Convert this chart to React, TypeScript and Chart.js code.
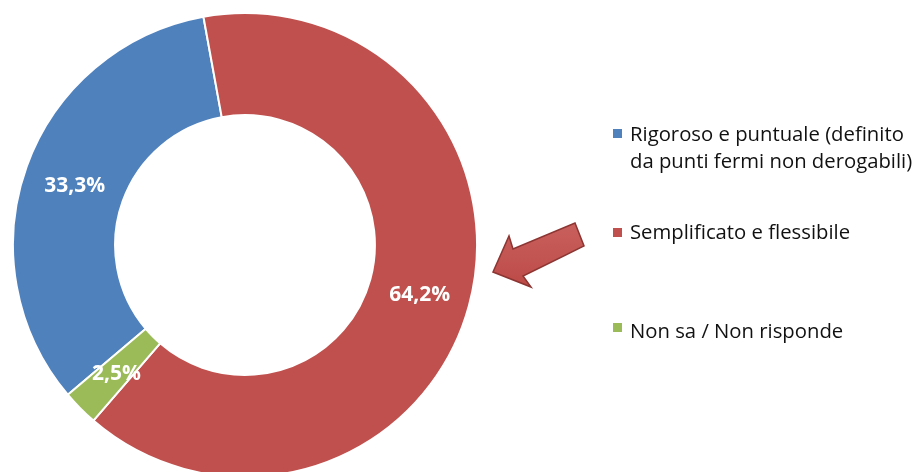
import React, { useEffect, useRef } from "react";
import { Chart, registerables } from "chart.js";

Chart.register(...registerables);

const categories = [
  "Rigoroso e puntuale (definito da punti fermi non derogabili)",
  "Semplificato e flessibile",
  "Non sa / Non risponde",
];
const legendLines = [
  ["Rigoroso e puntuale (definito", "da punti fermi non derogabili)"],
  ["Semplificato e flessibile"],
  ["Non sa / Non risponde"],
];
const values = [33.3, 64.2, 2.5];
const colors = ["#4F81BD", "#C0504D", "#9BBB59"];

const labelPlugin = {
  id: "sliceLabels",
  afterDatasetsDraw(chart: any) {
    const ctx = chart.ctx;
    const meta = chart.getDatasetMeta(0);
    ctx.save();
    ctx.fillStyle = "#ffffff";
    ctx.font = "bold 21px 'Open Sans', Lato, sans-serif";
    ctx.textAlign = "center";
    ctx.textBaseline = "middle";
    meta.data.forEach((arc: any, i: number) => {
      const p = arc.tooltipPosition();
      const txt = values[i].toFixed(1).replace(".", ",") + "%";
      ctx.fillText(txt, p.x, p.y + 2);
    });
    ctx.restore();
  },
};

export default function App() {
  const ref = useRef<HTMLCanvasElement>(null);
  useEffect(() => {
    if (!ref.current) return;
    const chart = new Chart(ref.current, {
      type: "doughnut",
      data: {
        labels: categories,
        datasets: [
          {
            data: values,
            backgroundColor: colors,
            borderColor: "#ffffff",
            borderWidth: 2,
            hoverOffset: 0,
          },
        ],
      },
      options: {
        responsive: false,
        maintainAspectRatio: false,
        animation: false,
        rotation: 229.8,
        cutout: "56%",
        layout: { padding: 0 },
        plugins: {
          legend: { display: false },
          tooltip: { enabled: false },
        },
      },
      plugins: [labelPlugin],
    });
    return () => chart.destroy();
  }, []);

  const itemTops = [120, 218, 317];
  const squareTops = [129, 228, 323];

  return (
    <div
      style={{
        position: "fixed",
        left: 0,
        top: 0,
        width: 923,
        height: 472,
        overflow: "hidden",
        background: "#ffffff",
        fontFamily: "'Open Sans', Lato, sans-serif",
      }}
    >
      <canvas
        ref={ref}
        width={466}
        height={466}
        style={{ position: "absolute", left: 12, top: 12, width: 466, height: 466 }}
      />
      <svg
        width={923}
        height={472}
        style={{ position: "absolute", left: 0, top: 0, pointerEvents: "none" }}
      >
        <defs>
          <linearGradient id="arrowGrad" x1="0" y1="0" x2="0" y2="1">
            <stop offset="0" stopColor="#C9605D" />
            <stop offset="1" stopColor="#BC4A47" />
          </linearGradient>
        </defs>
        <polygon
          points="493,272 509,236 513,249 575,223 584,246 523,276 531,287"
          fill="url(#arrowGrad)"
          stroke="#8C3532"
          strokeWidth={1.5}
          strokeLinejoin="miter"
        />
      </svg>
      {legendLines.map((lines, i) => (
        <React.Fragment key={i}>
          <div
            style={{
              position: "absolute",
              left: 613,
              top: squareTops[i],
              width: 9,
              height: 9,
              background: colors[i],
            }}
          />
          <div
            style={{
              position: "absolute",
              left: 630,
              top: itemTops[i],
              fontSize: 20.3,
              lineHeight: "27px",
              color: "#111111",
              whiteSpace: "nowrap",
            }}
          >
            {lines.map((l, j) => (
              <div key={j}>{l}</div>
            ))}
          </div>
        </React.Fragment>
      ))}
    </div>
  );
}
